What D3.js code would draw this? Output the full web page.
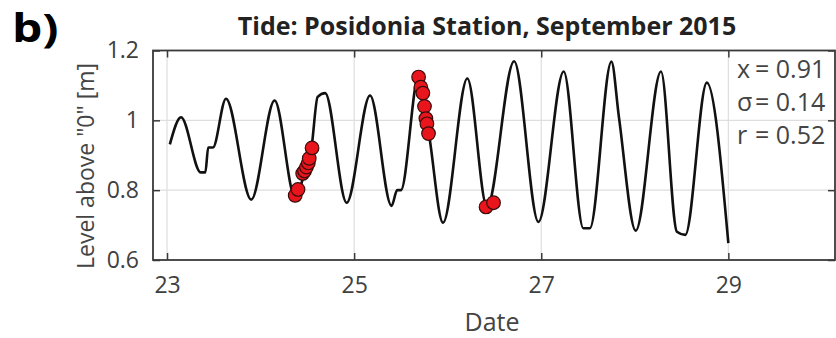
<!DOCTYPE html>
<html>
<head>
<meta charset="utf-8">
<script src="https://cdn.jsdelivr.net/npm/d3@7"></script>
<style>
  html, body { margin: 0; padding: 0; background: #fff; }
  svg { display: block; }
  text { font-family: "Open Sans", "Noto Sans", sans-serif; }
</style>
</head>
<body>
<svg id="chart" width="836" height="338"></svg>
<script>
// ---- data ----
const tideDay = [23.03, 23.15, 23.36, 23.41, 23.44, 23.49, 23.63, 23.90, 24.15, 24.37, 24.46, 24.545, 24.61, 24.69,
  24.92, 25.17, 25.40, 25.46, 25.50, 25.69, 25.80, 25.95, 26.21, 26.42, 26.71, 26.97, 27.24, 27.45, 27.52,
  27.75, 27.83, 28.01, 28.28, 28.45, 28.54, 28.77, 29.00];
const tideLevel = [0.931, 1.009, 0.851, 0.851, 0.922, 0.922, 1.062, 0.773, 1.057, 0.778, 0.84, 0.924, 1.067, 1.078,
  0.764, 1.071, 0.755, 0.80, 0.80, 1.128, 0.96, 0.707, 1.12, 0.752, 1.169, 0.709, 1.14, 0.691, 0.691,
  1.168, 1.01, 0.684, 1.14, 0.681, 0.672, 1.108, 0.648];
const obsDay = [24.37, 24.40, 24.45, 24.47, 24.49, 24.51, 24.52, 24.55,
  25.689, 25.713, 25.735, 25.752, 25.767, 25.778, 25.795,
  26.41, 26.49];
const obsLevel = [0.785, 0.802, 0.848, 0.855, 0.866, 0.878, 0.891, 0.921,
  1.124, 1.095, 1.078, 1.04, 1.005, 0.99, 0.962,
  0.752, 0.764];
const xTicks = [23, 25, 27, 29];
const yTicks = [0.6, 0.8, 1, 1.2];
const statLabels = ["x", "σ", "r"];
const statValues = ["0.91", "0.14", "0.52"];
const titleText = "Tide: Posidonia Station, September 2015";
const panelLabel = "b)";

// ---- layout ----
const svg = d3.select("#chart");
const L = 153, R = 835, T = 50.5, B = 260;
const x = d3.scaleLinear().domain([22.85, 30.14]).range([L, R]);
const y = d3.scaleLinear().domain([0.6, 1.2]).range([B, T]);

// grid
const grid = svg.append("g");
grid.selectAll("line.v").data(xTicks).join("line")
  .attr("x1", d => x(d)).attr("x2", d => x(d)).attr("y1", T).attr("y2", B)
  .attr("stroke", "#dedede").attr("stroke-width", 1.2);
grid.selectAll("line.h").data(yTicks.filter(d => d > 0.6 && d < 1.2)).join("line")
  .attr("x1", L).attr("x2", R).attr("y1", d => y(d)).attr("y2", d => y(d))
  .attr("stroke", "#dedede").attr("stroke-width", 1.2);

// line
const line = d3.line().x(d => x(d[0])).y(d => y(d[1])).curve(d3.curveMonotoneX);
svg.append("path")
  .datum(tideDay.map((d, i) => [d, tideLevel[i]]))
  .attr("d", line).attr("fill", "none").attr("stroke", "#111").attr("stroke-width", 2.6)
  .attr("stroke-linejoin", "round");

// observations
svg.append("g").selectAll("circle").data(obsDay.map((d, i) => [d, obsLevel[i]])).join("circle")
  .attr("cx", d => x(d[0])).attr("cy", d => y(d[1])).attr("r", 6.8)
  .attr("fill", "#e8161c").attr("stroke", "#3a0c0c").attr("stroke-width", 1.2);

// axes
const axColor = "#3a3a3a";
const xAxis = d3.axisBottom(x).tickValues(xTicks).tickSize(-7).tickPadding(17).tickFormat(d3.format("d"));
const yAxis = d3.axisLeft(y).tickValues(yTicks).tickSize(-7).tickPadding(14).tickFormat(d => d === 1 ? "1" : d3.format(".1f")(d));
const gx = svg.append("g").attr("transform", `translate(0,${B})`).call(xAxis);
const gy = svg.append("g").attr("transform", `translate(${L},0)`).call(yAxis);
const gxt = svg.append("g").attr("transform", `translate(0,${T})`).call(d3.axisTop(x).tickValues(xTicks).tickSize(-7).tickFormat(""));
const gyr = svg.append("g").attr("transform", `translate(${R},0)`).call(d3.axisRight(y).tickValues(yTicks).tickSize(-7).tickFormat(""));
[gx, gy, gxt, gyr].forEach(g => {
  g.select(".domain").remove();
  g.selectAll(".tick line").attr("stroke", axColor).attr("stroke-width", 1.5);
  g.selectAll(".tick text").attr("fill", "#404040").style("font-size", "23px")
    .style("font-family", '"Open Sans", "Noto Sans", sans-serif');
});
gx.selectAll(".tick text").attr("dy", "0.71em");
svg.append("rect").attr("x", L).attr("y", T).attr("width", R - L).attr("height", B - T)
  .attr("fill", "none").attr("stroke", axColor).attr("stroke-width", 1.8);

// stats
const st = svg.append("g").attr("fill", "#444").style("font-size", "25px");
statLabels.forEach((s, i) => {
  const by = 78 + i * 33;
  st.append("text").attr("x", 737).attr("y", by).text(s);
  st.append("text").attr("x", 755).attr("y", by).text("= " + statValues[i]);
});

// titles
svg.append("text").attr("x", 487).attr("y", 35).attr("text-anchor", "middle")
  .attr("fill", "#222").style("font-size", "25px").style("font-weight", "bold").text(titleText);
svg.append("text").attr("transform", "translate(12,42) scale(1.2,1)").attr("fill", "#000")
  .style("font-size", "40px").style("font-weight", "bold").text(panelLabel);
svg.append("text").attr("x", (L + R) / 2 - 2).attr("y", 331).attr("text-anchor", "middle")
  .attr("fill", "#444").style("font-size", "25px").text("Date");
svg.append("text").attr("transform", "translate(94,166) rotate(-90)").attr("text-anchor", "middle")
  .attr("fill", "#444").style("font-size", "23px").text('Level above "0" [m]');
</script>
</body>
</html>
